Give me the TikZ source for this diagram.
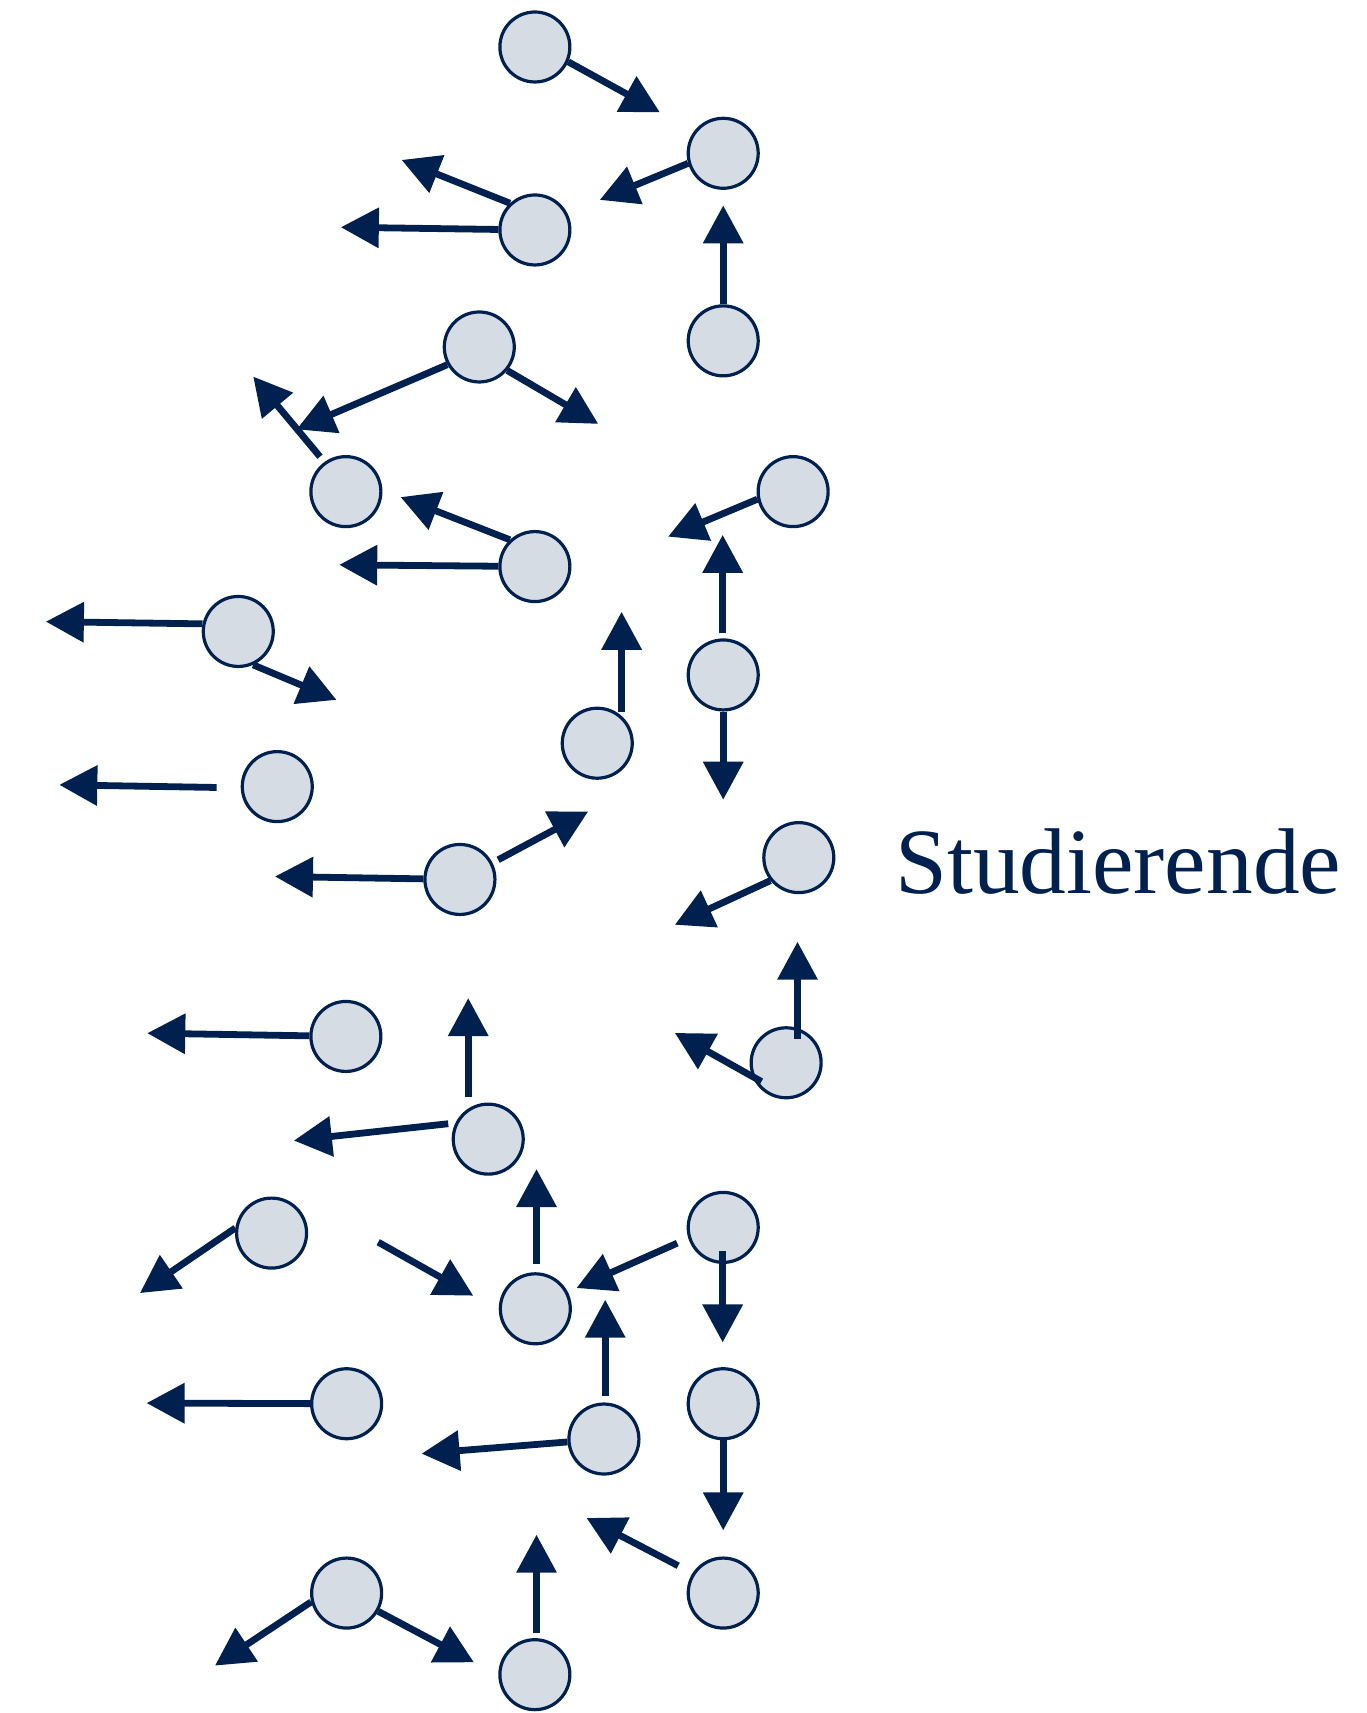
\documentclass[tikz,border=0pt]{standalone}
\usepackage{fontspec}
\setmainfont{Liberation Serif}
\usetikzlibrary{arrows.meta}
\definecolor{navy}{HTML}{002050}
\definecolor{disc}{HTML}{D6DCE4}
\begin{document}
\begin{tikzpicture}[x=0.54635pt,y=-0.54635pt,
  stud/.style={circle,draw=navy,fill=disc,line width=1.6pt,minimum size=35pt,inner sep=0pt},
  mv/.style={draw=navy,line width=3.4pt,-{Triangle[length=19pt,width=19.5pt]}},
  lbl/.style={text=navy,inner sep=0pt,anchor=base west,font=\fontsize{46.7pt}{51pt}\selectfont}]
\useasboundingbox (0,0) rectangle (1251,1568);
% students
\node[stud] (c1)  at (489.6,43) {};
\node[stud] (c2)  at (662,140.3) {};
\node[stud] (c3)  at (489.6,210.5) {};
\node[stud] (c4)  at (662,312) {};
\node[stud] (c5)  at (438.7,317.6) {};
\node[stud] (c6)  at (316.6,450) {};
\node[stud] (c7)  at (726,450) {};
\node[stud] (c8)  at (489.6,518.6) {};
\node[stud] (c9)  at (218.1,578) {};
\node[stud] (c10) at (662,617.8) {};
\node[stud] (c11) at (546.7,680.3) {};
\node[stud] (c12) at (253.8,720) {};
\node[stud] (c13) at (731.2,785) {};
\node[stud] (c14) at (421,805) {};
\node[stud] (c15) at (316.6,948.7) {};
\node[stud] (c16) at (719.6,972.8) {};
\node[stud] (c17) at (446.9,1042.7) {};
\node[stud] (c18) at (248.6,1128.7) {};
\node[stud] (c19) at (662,1123.5) {};
\node[stud] (c20) at (490,1198) {};
\node[stud] (c21) at (317.3,1284.9) {};
\node[stud] (c22) at (662,1284.9) {};
\node[stud] (c23) at (552.8,1317.2) {};
\node[stud] (c24) at (317.3,1458.2) {};
\node[stud] (c25) at (662,1458.2) {};
\node[stud] (c26) at (489.6,1532.9) {};
% free ends
\coordinate (t1)   at (604,102.8);
\coordinate (t2)   at (549,183);
\coordinate (t4)   at (662,188);
\coordinate (t3a)  at (367.6,146.4);
\coordinate (t3b)  at (312,208);
\coordinate (t5a)  at (271.5,393);
\coordinate (t5b)  at (547.6,388);
\coordinate (s6)   at (292.9,418);
\coordinate (t6)   at (231.8,344.7);
\coordinate (t7)   at (611.6,491.2);
\coordinate (t8a)  at (366.7,455);
\coordinate (t8b)  at (310.5,517);
\coordinate (t9a)  at (42,569);
\coordinate (t9b)  at (308,640.6);
\coordinate (s10u) at (661.5,579.6);
\coordinate (t10u) at (661.5,489.6);
\coordinate (t10d) at (662,732);
\coordinate (s11)  at (569,652);
\coordinate (t11)  at (569,560);
\coordinate (s12)  at (198.3,720.8);
\coordinate (t12)  at (54.3,718.4);
\coordinate (t13)  at (617.7,846.5);
\coordinate (s14a) at (456,787);
\coordinate (t14a) at (538.4,742.8);
\coordinate (t14b) at (251.7,802.3);
\coordinate (t15)  at (134.8,945.7);
\coordinate (s16a) at (730,951);
\coordinate (t16a) at (730,862);
\coordinate (s16b) at (697,990);
\coordinate (t16b) at (617.7,945.5);
\coordinate (s17u) at (428.6,1004.2);
\coordinate (t17u) at (428.6,913.6);
\coordinate (s17l) at (410.3,1028.6);
\coordinate (t17l) at (269,1044);
\coordinate (t18)  at (128.1,1183.6);
\coordinate (sf)   at (346.2,1137);
\coordinate (tf)   at (433.2,1186);
\coordinate (s20)  at (491.1,1157);
\coordinate (t20)  at (491.1,1070.1);
\coordinate (s19l) at (619.9,1137.9);
\coordinate (t19l) at (527.7,1179);
\coordinate (s19d) at (661.5,1145.5);
\coordinate (t19d) at (661.5,1228.8);
\coordinate (t22)  at (662,1400.8);
\coordinate (s23u) at (554,1277.6);
\coordinate (t23u) at (554,1189.7);
\coordinate (t23l) at (385.9,1330.6);
\coordinate (t21)  at (134.2,1284.3);
\coordinate (s25)  at (620.8,1433.2);
\coordinate (t25)  at (536.9,1389.5);
\coordinate (s26)  at (491.1,1494.8);
\coordinate (t26)  at (491.1,1404.8);
\coordinate (t24a) at (196.8,1524.6);
\coordinate (t24b) at (433.8,1521.6);
% movements
\draw[mv] (c1.-24) -- (t1);
\draw[mv] (c2.196) -- (t2);
\draw[mv] (c4) -- (t4);
\draw[mv] (c3.133) -- (t3a);
\draw[mv] (c3) -- (t3b);
\draw[mv] (c5.209) -- (t5a);
\draw[mv] (c5.-40) -- (t5b);
\draw[mv] (s6) -- (t6);
\draw[mv] (c7.192) -- (t7);
\draw[mv] (c8.133) -- (t8a);
\draw[mv] (c8) -- (t8b);
\draw[mv] (c9.168) -- (t9a);
\draw[mv] (c9.-66) -- (t9b);
\draw[mv] (s10u) -- (t10u);
\draw[mv] (c10) -- (t10d);
\draw[mv] (s11) -- (t11);
\draw[mv] (s12) -- (t12);
\draw[mv] (c13.219) -- (t13);
\draw[mv] (s14a) -- (t14a);
\draw[mv] (c14) -- (t14b);
\draw[mv] (c15) -- (t15);
\draw[mv] (s16a) -- (t16a);
\draw[mv] (s16b) -- (t16b);
\draw[mv] (s17u) -- (t17u);
\draw[mv] (s17l) -- (t17l);
\draw[mv] (c18.172) -- (t18);
\draw[mv] (sf) -- (tf);
\draw[mv] (s20) -- (t20);
\draw[mv] (s19l) -- (t19l);
\draw[mv] (s19d) -- (t19d);
\draw[mv] (c22) -- (t22);
\draw[mv] (s23u) -- (t23u);
\draw[mv] (c23) -- (t23l);
\draw[mv] (c21) -- (t21);
\draw[mv] (s25) -- (t25);
\draw[mv] (s26) -- (t26);
\draw[mv] (c24.194) -- (t24a);
\draw[mv] (c24.-30) -- (t24b);
% label
\node[lbl] (lab) at (819,817.5) {Studierende};
\end{tikzpicture}
\end{document}
